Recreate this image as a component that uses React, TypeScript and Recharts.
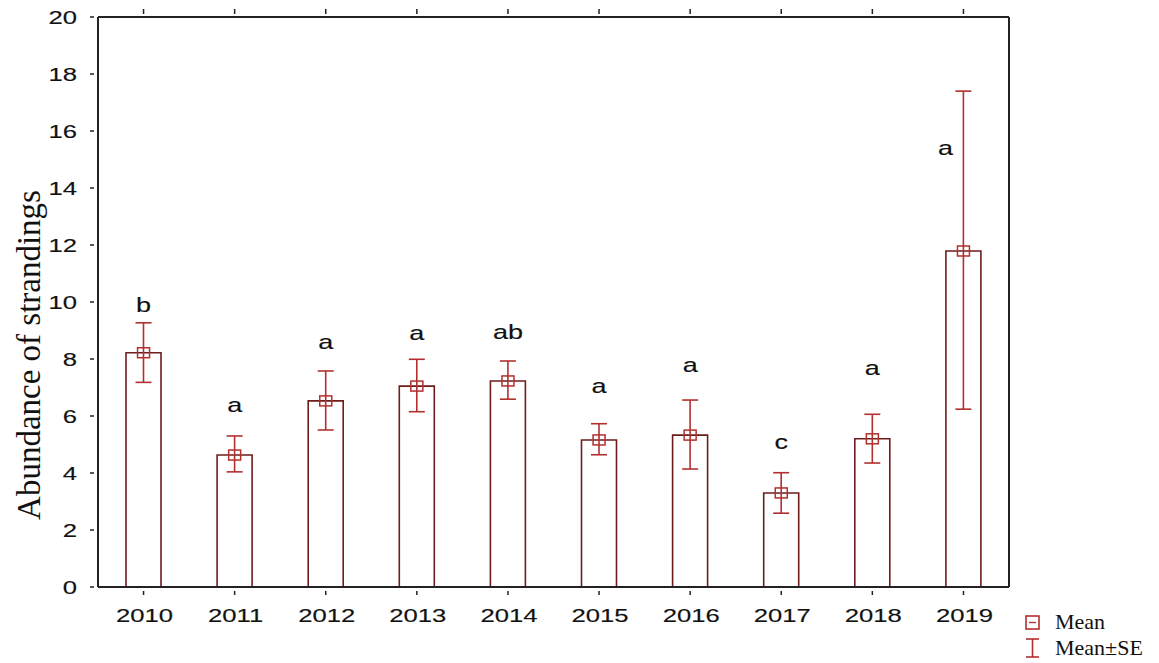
import React from 'react';
import { ComposedChart, Bar, ErrorBar, Scatter, XAxis, YAxis } from 'recharts';

const years = ['2010', '2011', '2012', '2013', '2014', '2015', '2016', '2017', '2018', '2019'];
const means = [8.22, 4.63, 6.53, 7.05, 7.23, 5.16, 5.33, 3.3, 5.2, 11.79];
const seLower = [7.18, 4.04, 5.51, 6.15, 6.59, 4.64, 4.14, 2.59, 4.35, 6.24];
const seUpper = [9.27, 5.3, 7.58, 7.99, 7.93, 5.73, 6.56, 4.01, 6.06, 17.4];
const letters = ['b', 'a', 'a', 'a', 'ab', 'a', 'a', 'c', 'a', 'a'];
const letterLevel = [9.9, 6.4, 8.6, 8.9, 8.95, 7.05, 7.8, 5.1, 7.7, 15.4];
const yTicks = [0, 2, 4, 6, 8, 10, 12, 14, 16, 18, 20];

const data = years.map((y, i) => ({
  year: y,
  mean: means[i],
  err: [means[i] - seLower[i], seUpper[i] - means[i]],
  letterY: letterLevel[i],
  letter: letters[i],
}));

const BAR_STROKE = '#6e1c1c';
const ERR = '#b3302f';
const SANS = '"Liberation Sans", Arial, sans-serif';
const SERIF = '"Liberation Serif", "Times New Roman", serif';
const SX = 1.35;

const Stretched = ({ x, y, anchor, size, children }: any) => (
  <text
    transform={`translate(${x},${y}) scale(${SX},1)`}
    textAnchor={anchor}
    fontFamily={SANS}
    fontSize={size}
    fill="#111"
    stroke="#111"
    strokeWidth={0.15}
  >
    {children}
  </text>
);

const LeftTick = (props: any) => {
  const { x, y, payload } = props;
  return (
    <g>
      <line x1={x} y1={y} x2={x + 4} y2={y} stroke="#222" strokeWidth={1.5} />
      <Stretched x={x - 13} y={y + 7} anchor="end" size={19}>
        {payload.value}
      </Stretched>
    </g>
  );
};

const RightTick = (props: any) => {
  const { x, y } = props;
  return <line x1={x} y1={y} x2={x - 5} y2={y} stroke="#222" strokeWidth={1.5} />;
};

const BottomTick = (props: any) => {
  const { x, y, payload } = props;
  return (
    <g>
      <line x1={x} y1={y} x2={x} y2={y - 4} stroke="#222" strokeWidth={1.5} />
      <Stretched x={x + 1} y={y + 27} anchor="middle" size={19}>
        {payload.value}
      </Stretched>
    </g>
  );
};

const TopTick = (props: any) => {
  const { x, y } = props;
  return <line x1={x} y1={y} x2={x} y2={y + 5} stroke="#222" strokeWidth={1.5} />;
};

const MeanMarker = (props: any) => {
  const { cx, cy } = props;
  return <rect x={cx - 6} y={cy - 5} width={12} height={10} fill="none" stroke={ERR} strokeWidth={1.5} />;
};

const LetterMark = (props: any) => {
  const { cx, cy, payload } = props;
  const dx = payload.year === '2019' ? -18 : 0;
  return (
    <Stretched x={cx + dx} y={cy + 7} anchor="middle" size={20}>
      {payload.letter}
    </Stretched>
  );
};

const YLabel = () => (
  <text
    x={29}
    y={355}
    transform="rotate(-90 29 355)"
    textAnchor="middle"
    dominantBaseline="central"
    fontFamily={SERIF}
    fontSize={33}
    fill="#111"
  >
    Abundance of strandings
  </text>
);

export default function App() {
  return (
    <div style={{ position: 'absolute', left: 0, top: 0, width: 1159, height: 663, background: '#fff' }}>
      <ComposedChart
        width={1159}
        height={663}
        data={data}
        margin={{ top: 7, right: 140, bottom: 36, left: 38 }}
        barCategoryGap={0}
      >
        <XAxis
          dataKey="year"
          xAxisId="bottom"
          height={40}
          axisLine={{ stroke: '#222', strokeWidth: 1.8 }}
          tickLine={false}
          tick={<BottomTick />}
          interval={0}
        />
        <XAxis
          dataKey="year"
          xAxisId="top"
          orientation="top"
          height={10}
          axisLine={{ stroke: '#222', strokeWidth: 1.8 }}
          tickLine={false}
          tick={<TopTick />}
          interval={0}
        />
        <YAxis
          yAxisId="left"
          width={60}
          domain={[0, 20]}
          ticks={yTicks}
          axisLine={{ stroke: '#222', strokeWidth: 2 }}
          tickLine={false}
          tick={<LeftTick />}
          interval={0}
        />
        <YAxis
          yAxisId="right"
          orientation="right"
          width={10}
          domain={[0, 20]}
          ticks={yTicks}
          axisLine={{ stroke: '#222', strokeWidth: 2 }}
          tickLine={false}
          tick={<RightTick />}
          interval={0}
        />
        <Bar
          dataKey="mean"
          xAxisId="bottom"
          yAxisId="left"
          barSize={35}
          fill="#fff"
          stroke={BAR_STROKE}
          strokeWidth={1.6}
          isAnimationActive={false}
        >
          <ErrorBar dataKey="err" width={8} stroke={ERR} strokeWidth={1.6} direction="y" />
        </Bar>
        <Scatter
          dataKey="mean"
          xAxisId="bottom"
          yAxisId="left"
          shape={<MeanMarker />}
          isAnimationActive={false}
        />
        <Scatter
          dataKey="letterY"
          xAxisId="bottom"
          yAxisId="left"
          shape={<LetterMark />}
          isAnimationActive={false}
        />
        <YLabel />
      </ComposedChart>
      <div style={{ position: 'absolute', left: 1020, top: 609, fontFamily: SERIF, fontSize: 22, color: '#111' }}>
        <div style={{ display: 'flex', alignItems: 'center', height: 26 }}>
          <svg width={30} height={26}>
            <rect x={6} y={7} width={13} height={13} fill="none" stroke={ERR} strokeWidth={1.6} />
            <line x1={9} y1={13.5} x2={16} y2={13.5} stroke={ERR} strokeWidth={1.4} />
          </svg>
          <span style={{ marginLeft: 5 }}>Mean</span>
        </div>
        <div style={{ display: 'flex', alignItems: 'center', height: 26 }}>
          <svg width={30} height={26}>
            <line x1={6} y1={4} x2={19} y2={4} stroke={ERR} strokeWidth={1.6} />
            <line x1={12.5} y1={4} x2={12.5} y2={22} stroke={ERR} strokeWidth={1.6} />
            <line x1={6} y1={22} x2={19} y2={22} stroke={ERR} strokeWidth={1.6} />
          </svg>
          <span style={{ marginLeft: 5 }}>Mean±SE</span>
        </div>
      </div>
    </div>
  );
}
